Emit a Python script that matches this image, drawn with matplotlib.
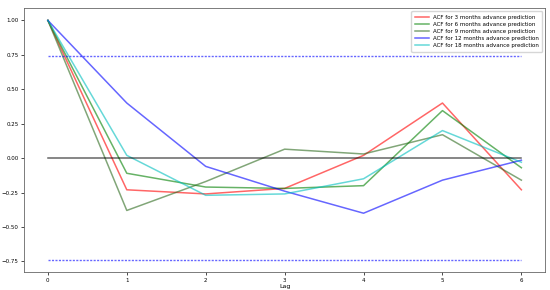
import matplotlib
matplotlib.use("Agg")
import matplotlib.pyplot as plt
import numpy as np

lags = [0, 1, 2, 3, 4, 5, 6]
acf_3 = [1.0, -0.23, -0.26, -0.22, 0.02, 0.40, -0.23]
acf_6 = [1.0, -0.11, -0.21, -0.22, -0.20, 0.345, -0.07]
acf_9 = [1.0, -0.38, -0.17, 0.065, 0.03, 0.17, -0.16]
acf_12 = [1.0, 0.40, -0.06, -0.24, -0.40, -0.16, -0.015]
acf_18 = [1.0, 0.02, -0.27, -0.26, -0.15, 0.20, -0.03]
conf = 0.74

labels = ["ACF for 3 months advance prediction",
          "ACF for 6 months advance prediction",
          "ACF for 9 months advance prediction",
          "ACF for 12 months advance prediction",
          "ACF for 18 months advance prediction"]
colors = ["red", "green", "#2e6b1f", "blue", "c"]

plt.rcParams['font.size'] = 4.5
fig = plt.figure(figsize=(5.5, 2.9), dpi=100)
ax = fig.add_axes([0.044, 0.062, 0.947, 0.909])

for vals, lab, col in zip([acf_3, acf_6, acf_9, acf_12, acf_18], labels, colors):
    ax.plot(lags, vals, color=col, alpha=0.6, lw=1.1, label=lab)

ax.plot(lags, [0]*len(lags), color="black", alpha=0.6, lw=1.1)
ax.plot(lags, [conf]*len(lags), color="blue", ls="--", lw=1.0, alpha=0.6, dashes=(1.5, 1))
ax.plot(lags, [-conf]*len(lags), color="blue", ls="--", lw=1.0, alpha=0.6, dashes=(1.5, 1))

ax.set_xlabel("Lag", fontsize=4.5, labelpad=1)
ax.tick_params(labelsize=4, length=2, width=0.5, pad=2)
for s in ax.spines.values():
    s.set_linewidth(0.6)
    s.set_color("#666666")
ax.legend(loc="upper right", fontsize=4, frameon=True, handlelength=2.5, borderpad=0.6, labelspacing=0.4)
fig.savefig("out.png", dpi=100)
